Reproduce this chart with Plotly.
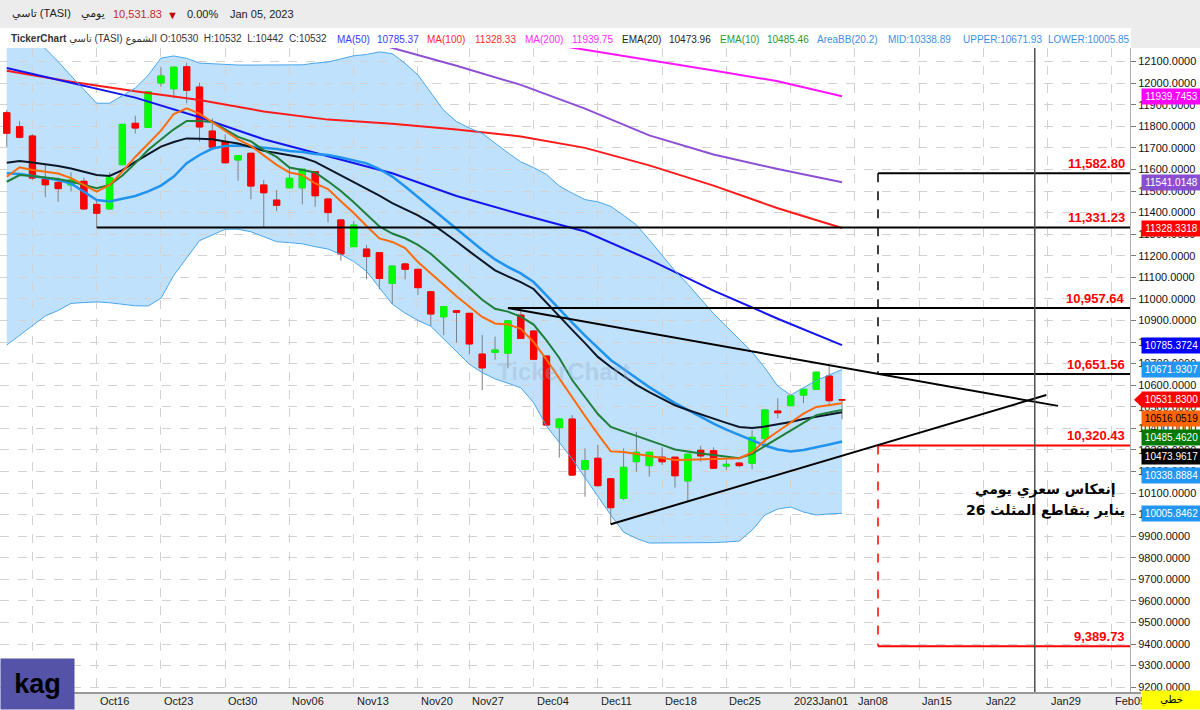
import plotly.graph_objects as go
import pandas as pd

# ------------------------------------------------------------------ data
# Tadawul trading calendar (Sun-Thu); 23 Nov 2022 was a market holiday
calendar = pd.bdate_range("2022-10-05", "2023-02-12", freq="C",
                          weekmask="Sun Mon Tue Wed Thu", holidays=["2022-11-23"])
dates = [d.strftime("%Y-%m-%d") for d in calendar]
pos = {d: i for i, d in enumerate(dates)}
candle_dates = dates[:66]

opens = [11863, 11798, 11755, 11554, 11540, 11528, 11545, 11438, 11417, 11622,
         11814, 11795, 12001, 11974, 12076, 11982, 11778, 11727, 11644, 11675,
         11528, 11458, 11515, 11515, 11590, 11463, 11366, 11242, 11231, 11214,
         11072, 11162, 11137, 11033, 10917, 10945, 10933, 10744, 10752, 10748,
         10925, 10851, 10735, 10403, 10443, 10210, 10261, 10166, 10075, 10245,
         10227, 10266, 10266, 10156, 10298, 10296, 10225, 10239, 10238, 10352,
         10480, 10505, 10554, 10581, 10642, 10532]
highs = [11876, 11825, 11764, 11621, 11562, 11587, 11562, 11463, 11587, 11812,
         11849, 11962, 12074, 12076, 12095, 12002, 11837, 11763, 11664, 11677,
         11551, 11505, 11610, 11603, 11592, 11465, 11368, 11361, 11250, 11216,
         11154, 11168, 11139, 11035, 10966, 10947, 10935, 10833, 10825, 10900,
         10957.64, 10855, 10737, 10445, 10462, 10307, 10323, 10168, 10307, 10384,
         10291, 10312, 10268, 10282, 10319, 10312, 10253, 10241, 10392, 10487,
         10539, 10552, 10583, 10663, 10689, 10532.5]
lows = [11705, 11744, 11551, 11471, 11450, 11497, 11412, 11331.23, 11412, 11620,
        11766, 11793, 11984, 11930, 11907, 11729, 11700, 11628, 11548, 11462,
        11332, 11407, 11513, 11438, 11427, 11355, 11177, 11240, 11091, 11044,
        10976, 11091, 11018, 10874, 10832, 10797, 10743, 10577, 10717, 10678,
        10815, 10718, 10410, 10264, 10180, 10083, 10129, 9955, 10067, 10199,
        10176, 10230, 10125, 10060, 10245, 10213, 10207, 10219, 10210, 10315,
        10446, 10503, 10516, 10579, 10513, 10442]
closes = [11768, 11749, 11560, 11529, 11511, 11551, 11417, 11397, 11562, 11809,
          11792, 11960, 12033, 12074, 11967, 11797, 11703, 11631, 11664, 11523,
          11492, 11434, 11559, 11601, 11478, 11400, 11208, 11342, 11196, 11095,
          11152, 11137, 11052, 10930, 10964, 10938, 10791, 10680, 10763, 10898,
          10817, 10720, 10415, 10443, 10183, 10250, 10134, 10032, 10219, 10289,
          10289, 10245, 10180, 10280, 10272, 10215, 10233, 10227, 10358, 10485,
          10472, 10550, 10581, 10660, 10528, 10531.83]

bb_upper = [12330, 12280, 12220, 12160, 12100, 12034, 11970, 11907, 11907, 11944,
            11977, 12036, 12116, 12126, 12115, 12093, 12089, 12086, 12084, 12084,
            12084, 12084, 12084, 12085, 12093, 12098, 12112, 12127, 12133, 12145,
            12137, 12092, 12038, 11955, 11874, 11822, 11792, 11767, 11720, 11677,
            11635, 11609, 11577, 11523, 11490, 11460, 11450, 11429, 11387, 11343,
            11274, 11202, 11130, 11068, 11002, 10932, 10872, 10813, 10754, 10680,
            10596, 10554, 10587, 10622, 10647, 10671.9307]
bb_lower = [10786, 10832, 10879, 10921, 10946, 10979, 10983, 10986, 10982, 10976,
            10968, 10967, 11003, 11109, 11189, 11270, 11296, 11323, 11323, 11311,
            11288, 11265, 11261, 11255, 11242, 11231, 11206, 11173, 11128, 11052,
            10976, 10934, 10900, 10873, 10813, 10755, 10697, 10658, 10629, 10609,
            10588, 10519, 10411, 10334, 10258, 10171, 10083, 9998, 9919, 9889,
            9868, 9868, 9868, 9868, 9868, 9870, 9873, 9877, 9928, 9998,
            10026, 10035, 10012, 9998, 10003, 10005.8462]
bb_mid = [11582, 11579, 11570, 11560, 11551, 11535, 11495, 11458, 11451, 11463,
          11477, 11498, 11525, 11567, 11629, 11667, 11697, 11709, 11711, 11706,
          11702, 11695, 11686, 11681, 11672, 11667, 11655, 11642, 11628, 11602,
          11567, 11521, 11472, 11424, 11377, 11326, 11278, 11227, 11183, 11148,
          11118, 11078, 11016, 10951, 10890, 10830, 10772, 10717, 10675, 10633,
          10591, 10554, 10517, 10485, 10452, 10422, 10394, 10369, 10343, 10320,
          10302, 10292, 10299, 10311, 10325, 10338.8884]
ema20 = [11631, 11639, 11632, 11625, 11616, 11604, 11588, 11574, 11570, 11597,
         11635, 11672, 11706, 11727, 11744, 11742, 11740, 11730, 11720, 11704,
         11686, 11676, 11667, 11655, 11635, 11604, 11574, 11544, 11512, 11479,
         11444, 11417, 11387, 11352, 11310, 11266, 11220, 11176, 11132, 11104,
         11078, 11046, 10981, 10916, 10856, 10795, 10731, 10684, 10642, 10601,
         10568, 10536, 10506, 10485, 10464, 10443, 10425, 10406, 10401, 10408,
         10418, 10429, 10443, 10454, 10464, 10473.9617]
ema10 = [11543, 11574, 11570, 11563, 11556, 11544, 11528, 11513, 11528, 11572,
         11628, 11690, 11739, 11786, 11825, 11825, 11820, 11786, 11751, 11730,
         11690, 11658, 11609, 11597, 11586, 11545, 11500, 11448, 11393, 11336,
         11303, 11281, 11250, 11209, 11156, 11102, 11050, 10996, 10954, 10941,
         10918, 10881, 10808, 10726, 10624, 10545, 10466, 10406, 10386, 10365,
         10344, 10323, 10302, 10292, 10283, 10276, 10267, 10261, 10282, 10318,
         10354, 10390, 10426, 10461, 10473, 10485.4620]
ema_orange = [11566, 11610, 11597, 11588, 11581, 11560, 11528, 11497, 11528, 11590,
              11658, 11720, 11780, 11857, 11883, 11859, 11818, 11776, 11739, 11709,
              11665, 11621, 11586, 11574, 11535, 11509, 11453, 11398, 11338, 11280,
              11264, 11235, 11171, 11120, 11066, 11012, 10964, 10916, 10886, 10881,
              10861, 10800, 10718, 10629, 10540, 10457, 10373, 10293, 10290, 10281,
              10271, 10262, 10253, 10254, 10255, 10256, 10258, 10261, 10288, 10344,
              10385, 10427, 10468, 10499, 10507, 10516.0519]

ma_dates = candle_dates[::5]
ma50 = [12070, 12003, 11933, 11842, 11740, 11661, 11582, 11477, 11392, 11312,
        11182, 11038, 10908, 10785.3724]
ma100 = [12058, 12007, 11962, 11922, 11869, 11831, 11812, 11785, 11753, 11700,
         11619, 11525, 11420, 11328.3318]
purple_dates = candle_dates[20::5]
ma_purple = [12328, 12245, 12163, 12081, 11992, 11882, 11758, 11669, 11602, 11541.0148]
ma200_dates = candle_dates[40::5]
ma200 = [12203, 12156, 12107, 12059, 12009, 11939.7453]

tick_dates = ["2022-10-09", "2022-10-16", "2022-10-23", "2022-10-30", "2022-11-06",
              "2022-11-13", "2022-11-20", "2022-11-27", "2022-12-04", "2022-12-11",
              "2022-12-18", "2022-12-25", "2023-01-01", "2023-01-08", "2023-01-15",
              "2023-01-22", "2023-01-29", "2023-02-05"]
tick_text = ["Oct09", "Oct16", "Oct23", "Oct30", "Nov06", "Nov13", "Nov20", "Nov27",
             "Dec04", "Dec11", "Dec18", "Dec25", "2023Jan01", "Jan08", "Jan15",
             "Jan22", "Jan29", "Feb05"]

# analyst drawings
levels = [11582.80, 11331.23, 10957.64, 10651.56, 10320.43, 9389.73]
level_colors = ["#000000", "#000000", "#000000", "#000000", "#ff0000", "#ff0000"]
tri_upper = [("2022-11-30", 10957.64), (81.8, 10504)]
tri_lower = [("2022-12-12", 9955), (80.9, 10554)]
reversal_date = "2023-01-26"
reversal_text = ["إنعكاس سعري يومي", "26 يناير بتقاطع المثلث"]

# ------------------------------------------------------------------ geometry
W, H = 1200, 710
ML, MR, MT, MB = 0, 70, 48, 18
PW, PH = W - ML - MR, H - MT - MB
X_RANGE = [-0.525, 87.41]
Y_RANGE = [9177.5, 12163.0]
FONT = "Liberation Sans, DejaVu Sans, Arial, sans-serif"


def px(x):
    return (x - ML) / PW


def py(y):
    return (H - MB - y) / PH


def vpix(v):
    return MT + (Y_RANGE[1] - v) * PH / (Y_RANGE[1] - Y_RANGE[0])


def X(d):
    return pos[d] if isinstance(d, str) else d


xc = [pos[d] for d in candle_dates]
fig = go.Figure()

# Bollinger area (drawn below the grid like the original)
band = [f"{x},{u}" for x, u in zip(xc, bb_upper)] + \
       [f"{x},{l}" for x, l in zip(xc[::-1], bb_lower[::-1])]
shapes = [dict(type="path", path="M " + " L ".join(band) + " Z", xref="x", yref="y",
               fillcolor="#bfe1fb", line=dict(width=0), layer="below")]

# moving averages
fig.add_trace(go.Scatter(x=[pos[d] for d in ma200_dates], y=ma200, mode="lines",
                         line=dict(color="#ff14ff", width=2)))
fig.add_trace(go.Scatter(x=[pos[d] for d in purple_dates], y=ma_purple, mode="lines",
                         line=dict(color="#8c4fd6", width=2)))
fig.add_trace(go.Scatter(x=[pos[d] for d in ma_dates], y=ma100, mode="lines",
                         line=dict(color="#ff1a1a", width=2)))
fig.add_trace(go.Scatter(x=[pos[d] for d in ma_dates], y=ma50, mode="lines",
                         line=dict(color="#1414f0", width=2)))

# candles: wick trace then body trace
fig.add_trace(go.Candlestick(
    x=xc, open=opens, high=highs, low=lows, close=closes, whiskerwidth=0,
    increasing=dict(line=dict(color="#808080", width=1), fillcolor="#00ff00"),
    decreasing=dict(line=dict(color="#808080", width=1), fillcolor="#ff0000"),
    hoverinfo="skip"))
fig.add_trace(go.Candlestick(
    x=xc, open=opens, close=closes,
    high=[max(o, c) for o, c in zip(opens, closes)],
    low=[min(o, c) for o, c in zip(opens, closes)], whiskerwidth=0,
    increasing=dict(line=dict(color="#00ff00", width=1), fillcolor="#00ff00"),
    decreasing=dict(line=dict(color="#ff0000", width=1), fillcolor="#ff0000"),
    hoverinfo="skip"))

# band edges and short averages
fig.add_trace(go.Scatter(x=xc, y=bb_upper, mode="lines", line=dict(color="#49a6ee", width=1)))
fig.add_trace(go.Scatter(x=xc, y=bb_lower, mode="lines", line=dict(color="#49a6ee", width=1)))
fig.add_trace(go.Scatter(x=xc, y=bb_mid, mode="lines", line=dict(color="#2093f0", width=2.5)))
fig.add_trace(go.Scatter(x=xc, y=ema20, mode="lines", line=dict(color="#0c1626", width=2)))
fig.add_trace(go.Scatter(x=xc, y=ema10, mode="lines", line=dict(color="#1f7f3a", width=2)))
fig.add_trace(go.Scatter(x=xc, y=ema_orange, mode="lines", line=dict(color="#ff6a0a", width=2)))

# ------------------------------------------------------------------ drawings
bracket_x = 67.8
level_start = [bracket_x, X("2022-10-16"), X("2022-11-30"), bracket_x, bracket_x, bracket_x]
for lv, col, x0 in zip(levels, level_colors, level_start):
    shapes.append(dict(type="line", xref="x", yref="y", x0=x0, x1=X_RANGE[1], y0=lv, y1=lv,
                       line=dict(color=col, width=2), layer="above"))
    fig.add_annotation(text=f"<b>{lv:,.2f}</b>", xref="paper", yref="y", x=px(1127), y=lv,
                       xanchor="right", yanchor="middle", yshift=10, showarrow=False,
                       font=dict(family=FONT, size=13, color="#ff0000"))
shapes.append(dict(type="line", xref="x", yref="y", x0=bracket_x, x1=bracket_x,
                   y0=levels[0], y1=levels[3], line=dict(color="#000000", width=1.5, dash="dash")))
shapes.append(dict(type="line", xref="x", yref="y", x0=bracket_x, x1=bracket_x,
                   y0=levels[4], y1=levels[5], line=dict(color="#ff0000", width=1.5, dash="dash")))
for seg in (tri_upper, tri_lower):
    shapes.append(dict(type="line", xref="x", yref="y", x0=X(seg[0][0]), y0=seg[0][1],
                       x1=X(seg[1][0]), y1=seg[1][1], line=dict(color="#000000", width=2)))
shapes.append(dict(type="line", xref="x", yref="paper", x0=X(reversal_date), x1=X(reversal_date),
                   y0=0, y1=1, line=dict(color="#505050", width=1.5)))

for line_txt, yc in zip(reversal_text, (490, 510)):
    fig.add_annotation(text=f"<b>{line_txt}</b>", xref="paper", yref="paper",
                       x=px(1045), y=py(yc), showarrow=False, align="center",
                       xanchor="center", yanchor="middle",
                       font=dict(family="DejaVu Sans, sans-serif", size=14, color="#000"))
fig.add_annotation(text="<b>TickerChart</b>", xref="paper", yref="paper", x=px(563), y=py(371),
                   xanchor="center", yanchor="middle", showarrow=False,
                   font=dict(family=FONT, size=24, color="rgba(150,175,200,0.35)"))

# ------------------------------------------------------------------ chrome
shapes += [
    dict(type="rect", xref="paper", yref="paper", x0=px(0), x1=px(W), y0=py(28), y1=py(0),
         fillcolor="#ececec", line=dict(width=0), layer="above"),
    dict(type="rect", xref="paper", yref="paper", x0=px(1131), x1=px(W), y0=py(48), y1=py(28),
         fillcolor="#ececec", line=dict(width=0), layer="above"),
    dict(type="rect", xref="paper", yref="paper", x0=px(73), x1=px(1141), y0=py(H), y1=py(693),
         fillcolor="#ececec", line=dict(width=0), layer="above"),
    dict(type="line", xref="paper", yref="paper", x0=px(73), x1=px(1141), y0=py(693), y1=py(693),
         line=dict(color="#9a9a9a", width=2), layer="above"),
]


def note(text, x, y, color="#222", size=10, anchor="left", **kw):
    fig.add_annotation(text=text, xref="paper", yref="paper", x=px(x), y=py(y),
                       xanchor=anchor, yanchor="middle", showarrow=False,
                       font=dict(family=FONT, size=size, color=color), **kw)


# header line 1
note("تاسي (TASI)", 10, 14, size=11)
note("يومي", 79, 14, size=11)
note("10,531.83", 111, 14, color="#c42a2a", size=11)
note("▼", 165, 15, color="#c00000", size=11)
note("0.00%", 185, 14, size=11)
note("Jan 05, 2023", 228, 14, size=11)

# header line 2
ohlc_last = [("O", 10530), ("H", 10532), ("L", 10442), ("C", 10532)]
ohlc_txt = "\u00a0\u00a0".join(f"{k}:{v}" for k, v in ohlc_last)
note(f"<b>TickerChart</b> تاسي (TASI) الشموع {ohlc_txt}", 9, 39, color="#333")
legend_items = [("MA(50)", ma50[-1], "#3a3aff", 335, 375),
                ("MA(100)", ma100[-1], "#ff2a2a", 425, 473),
                ("MA(200)", ma200[-1], "#ff2cff", 523, 570),
                ("EMA(20)", ema20[-1], "#222222", 620, 667),
                ("EMA(10)", ema10[-1], "#2f9a2f", 718, 765)]
for name, val, col, x1, x2 in legend_items:
    note(name, x1, 39, color=col)
    note(f"{val:.2f}", x2, 39, color=col)
note("AreaBB(20.2)", 815, 39, color="#3d8fe0")
note(f"MID:{bb_mid[-1]:.2f}", 886, 39, color="#3d8fe0")
note(f"UPPER:{bb_upper[-1]:.2f}", 961, 39, color="#3d8fe0")
note(f"LOWER:{bb_lower[-1]:.2f}", 1046, 39, color="#3d8fe0")

# x-axis labels (left-aligned at each week tick)
for d, t in zip(tick_dates, tick_text):
    fig.add_annotation(text=t, xref="x", yref="paper", x=pos[d], y=py(701), xanchor="left",
                       yanchor="middle", xshift=1, showarrow=False,
                       font=dict(family=FONT, size=11, color="#222"))

# price boxes on the right axis, stacked so they do not overlap
boxes = [(ma200[-1], "#ff00ff", "#fff"), (ma_purple[-1], "#8a4fd0", "#fff"),
         (ma100[-1], "#ff0000", "#fff"), (ma50[-1], "#0000ff", "#fff"),
         (bb_upper[-1], "#2196f3", "#fff"), (closes[-1], "#ff0000", "#fff"),
         (ema_orange[-1], "#ff6600", "#000"), (ema10[-1], "#007a00", "#fff"),
         (ema20[-1], "#000000", "#fff"), (bb_mid[-1], "#2196f3", "#fff"),
         (bb_lower[-1], "#2196f3", "#fff")]
prev = -1e9
for v, bg, fg in boxes:
    yp = max(vpix(v), prev + 19)
    prev = yp
    fig.add_annotation(text=f"{v:.4f}", xref="paper", yref="paper", x=px(1141), y=py(yp),
                       xanchor="left", yanchor="middle", showarrow=False, width=59, height=15,
                       bgcolor=bg, borderpad=0, font=dict(family=FONT, size=10, color=fg))
    if v == closes[-1]:
        shapes.append(dict(type="path", xref="paper", yref="paper", fillcolor=bg,
                           line=dict(width=0), layer="above",
                           path=f"M {px(1134)},{py(yp)} L {px(1142)},{py(yp - 7.5)} "
                                f"L {px(1142)},{py(yp + 7.5)} Z"))

fig.add_annotation(text="<b>kag</b>", xref="paper", yref="paper", x=px(0), y=py(H),
                   xanchor="left", yanchor="bottom", showarrow=False, width=73, height=50,
                   bgcolor="#5553a7", borderpad=0,
                   font=dict(family=FONT, size=27, color="#000"))
fig.add_annotation(text="خطي", xref="paper", yref="paper", x=px(1141), y=py(H),
                   xanchor="left", yanchor="bottom", showarrow=False, width=59, height=18,
                   bgcolor="#ffff00", borderpad=0,
                   font=dict(family="DejaVu Sans, sans-serif", size=10, color="#000"))

fig.update_layout(
    width=W, height=H, margin=dict(l=ML, r=MR, t=MT, b=MB, autoexpand=False),
    paper_bgcolor="white", plot_bgcolor="white", showlegend=False, hovermode=False,
    boxmode="overlay", boxgap=0.3, font=dict(family=FONT, size=11, color="#111"),
    shapes=shapes,
    xaxis=dict(range=X_RANGE, tickvals=[pos[d] for d in tick_dates], showticklabels=False,
               ticks="outside", ticklen=4, tickcolor="#888", showgrid=True,
               gridcolor="#d2d2d2", griddash="dash", gridwidth=1, zeroline=False,
               rangeslider=dict(visible=False), automargin=False, showline=False),
    yaxis=dict(range=Y_RANGE, side="right", dtick=100, tick0=0, tickformat=".4f",
               ticks="outside", ticklen=5, tickcolor="#777", showgrid=True,
               gridcolor="#d2d2d2", griddash="dash", zeroline=False, showline=True,
               linecolor="#b0b0b0", automargin=False,
               tickfont=dict(family=FONT, size=11, color="#111")),
)

fig.write_html("out.html", config={"displayModeBar": False},
               post_script="document.body.style.margin='0px';")
